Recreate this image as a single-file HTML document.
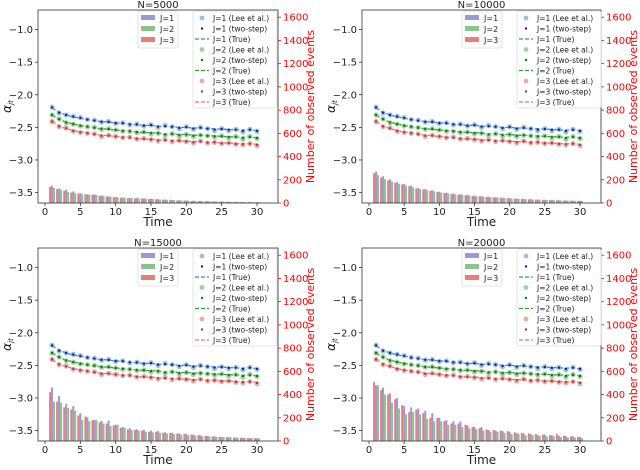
<!DOCTYPE html>
<html><head><meta charset="utf-8"><style>
body{margin:0;background:#fff;width:640px;height:465px;overflow:hidden}
svg text{font-family:"DejaVu Sans","Liberation Sans",sans-serif}
</style></head><body>
<svg id="c" width="640" height="465" xmlns="http://www.w3.org/2000/svg"></svg>
<script>
const times=[1,2,3,4,5,6,7,8,9,10,11,12,13,14,15,16,17,18,19,20,21,22,23,24,25,26,27,28,29,30];
const trueJ1=[-2.20,-2.27,-2.31,-2.34,-2.36,-2.38,-2.40,-2.41,-2.42,-2.43,-2.44,-2.45,-2.46,-2.47,-2.47,-2.48,-2.49,-2.49,-2.50,-2.50,-2.51,-2.51,-2.52,-2.52,-2.53,-2.53,-2.54,-2.54,-2.54,-2.55];
const trueJ2=[-2.31,-2.38,-2.42,-2.45,-2.47,-2.49,-2.51,-2.52,-2.53,-2.54,-2.55,-2.56,-2.57,-2.58,-2.58,-2.59,-2.60,-2.60,-2.61,-2.61,-2.62,-2.62,-2.63,-2.63,-2.64,-2.64,-2.65,-2.65,-2.65,-2.66];
const trueJ3=[-2.41,-2.48,-2.52,-2.55,-2.57,-2.59,-2.61,-2.62,-2.63,-2.64,-2.65,-2.66,-2.67,-2.68,-2.68,-2.69,-2.70,-2.70,-2.71,-2.71,-2.72,-2.72,-2.73,-2.73,-2.74,-2.74,-2.75,-2.75,-2.75,-2.76];
const leeJ1=[-2.19,-2.28,-2.31,-2.33,-2.35,-2.38,-2.39,-2.42,-2.41,-2.44,-2.43,-2.46,-2.45,-2.48,-2.46,-2.50,-2.47,-2.49,-2.52,-2.49,-2.53,-2.50,-2.52,-2.55,-2.52,-2.55,-2.53,-2.57,-2.53,-2.56];
const leeJ2=[-2.31,-2.37,-2.43,-2.45,-2.48,-2.49,-2.50,-2.53,-2.52,-2.54,-2.56,-2.56,-2.58,-2.57,-2.60,-2.59,-2.62,-2.60,-2.63,-2.61,-2.64,-2.62,-2.63,-2.65,-2.63,-2.66,-2.64,-2.68,-2.64,-2.67];
const leeJ3=[-2.41,-2.49,-2.51,-2.56,-2.58,-2.59,-2.60,-2.64,-2.62,-2.64,-2.66,-2.65,-2.68,-2.67,-2.69,-2.71,-2.69,-2.72,-2.70,-2.72,-2.74,-2.71,-2.74,-2.73,-2.75,-2.74,-2.76,-2.77,-2.75,-2.78];
const cntN5000J1=[150,125,115,100,85,75,72,65,58,52,48,44,42,40,37,33,30,27,24,22,20,18,16,14,13,11,10,9,8,7];
const cntN5000J2=[130,115,95,85,75,72,70,62,55,50,46,42,40,38,34,30,28,25,22,20,18,16,15,13,12,10,9,8,7,6];
const cntN5000J3=[140,120,105,90,80,74,72,60,55,50,45,42,40,38,35,31,28,25,22,21,18,16,15,13,12,11,9,8,7,6];
const cntN10000J1=[270,230,205,180,165,150,130,120,110,98,90,82,75,70,64,58,54,50,46,42,38,36,33,30,28,26,24,22,20,19];
const cntN10000J2=[240,205,185,165,150,135,120,110,100,90,82,75,70,64,58,54,50,46,42,38,35,32,30,28,26,24,22,20,19,18];
const cntN10000J3=[255,220,195,175,160,145,125,115,105,94,86,78,72,66,60,56,52,48,44,40,36,34,31,29,27,25,23,21,20,19];
const cntN15000J1=[460,390,320,300,240,205,180,175,175,140,120,110,100,95,90,85,75,70,65,60,55,50,45,40,35,33,30,28,25,24];
const cntN15000J2=[340,330,285,260,180,170,180,150,130,140,115,95,90,80,75,70,65,60,55,50,45,40,38,35,33,30,28,26,24,22];
const cntN15000J3=[420,340,290,270,220,210,180,160,150,135,115,100,95,90,80,80,70,70,65,60,55,50,45,40,35,33,30,28,26,24];
const cntN20000J1=[480,460,410,370,300,290,280,260,240,200,180,170,170,135,120,120,95,90,85,80,70,65,60,50,55,50,45,42,40,35];
const cntN20000J2=[480,400,330,280,230,250,230,190,170,170,140,140,120,110,100,90,80,80,70,60,60,50,50,45,40,40,35,30,30,25];
const cntN20000J3=[510,440,400,360,310,250,270,240,200,200,170,150,150,140,120,110,100,95,90,85,75,70,65,60,55,50,60,45,40,35];

const titles=["N=5000","N=10000","N=15000","N=20000"];
const counts=[[cntN5000J1,cntN5000J2,cntN5000J3],[cntN10000J1,cntN10000J2,cntN10000J3],[cntN15000J1,cntN15000J2,cntN15000J3],[cntN20000J1,cntN20000J2,cntN20000J3]];
const yTicks=[-1.0,-1.5,-2.0,-2.5,-3.0,-3.5];
const rTicks=[0,200,400,600,800,1000,1200,1400,1600];
const xTicks=[0,5,10,15,20,25,30];
const NS="http://www.w3.org/2000/svg";
const svg=document.getElementById('c');
function mk(t,a,p){const e=document.createElementNS(NS,t);for(const k in a)e.setAttribute(k,a[k]);(p||svg).appendChild(e);return e;}
const panels=[{L:38,R:278,T:10,B:203},{L:362,R:601,T:10,B:203},{L:38,R:278,T:248,B:441},{L:362,R:601,T:248,B:441}];
const barCol=["rgba(110,110,200,0.7)","rgba(90,170,90,0.7)","rgba(225,80,80,0.75)"];
const leeCol=["rgba(120,170,225,0.75)","rgba(120,200,120,0.75)","rgba(230,140,140,0.75)"];
const tsCol=["#1a237e","#1b6e1b","#a04040"];
const trueCol=["#2f8ad8","#2ca02c","#f07070"];
const trues=[trueJ1,trueJ2,trueJ3],lees=[leeJ1,leeJ2,leeJ3];
panels.forEach((P,pi)=>{
 const g=mk('g',{});
 
 
 const x0=P.L+7,x30=P.R-21;
 const X=t=>x0+(x30-x0)*t/30;
 const yTop=-0.70,yBot=-3.66;
 const Y=v=>P.T+(yTop-v)/(yTop-yBot)*(P.B-P.T);
 const rMax=1662;
 const YR=c=>P.B-c/rMax*(P.B-P.T);
 const bw=(x30-x0)/30*0.28;
 const off=[0,1,-1];
 for(let j=0;j<3;j++){counts[pi][j].forEach((c,i)=>{
   const r=mk('rect',{x:X(times[i])+off[j]*bw-bw/2,y:YR(c),width:bw,height:P.B-YR(c),fill:barCol[j]},g);
   
   
 });}
 for(let j=0;j<3;j++){
   const d=trues[j].map((v,i)=>(i?'L':'M')+X(times[i]).toFixed(1)+','+Y(v).toFixed(1)).join('');
   const pl=mk('path',{d:d,fill:'none',stroke:trueCol[j],'stroke-width':1.3,'stroke-dasharray':'4,2'},g);
   
   
   lees[j].forEach((v,i)=>{
     const c=mk('circle',{cx:X(times[i]),cy:Y(v),r:2.6,fill:leeCol[j]},g);
     
     
     const s=mk('circle',{cx:X(times[i]),cy:Y((v+trues[j][i])/2),r:1.2,fill:tsCol[j]},g);
     
     
   });
 }
 mk('rect',{x:P.L,y:P.T,width:P.R-P.L,height:P.B-P.T,fill:'none',stroke:'#333','stroke-width':0.8},g);
 mk('line',{x1:P.R,y1:P.T,x2:P.R,y2:P.B,stroke:'#555','stroke-width':0.8},g);
 yTicks.forEach(v=>{const y=Y(v);mk('line',{x1:P.L-3,y1:y,x2:P.L,y2:y,stroke:'#333','stroke-width':0.8},g);
  const t=mk('text',{x:P.L-5,y:y+3.5,'font-size':10,'text-anchor':'end',fill:'#222'},g);t.textContent=(v<0?'\u2212':'')+Math.abs(v).toFixed(1);});
 rTicks.forEach(v=>{const y=YR(v);mk('line',{x1:P.R,y1:y,x2:P.R+3,y2:y,stroke:'red','stroke-width':0.8},g);
  const t=mk('text',{x:P.R+5,y:y+3.5,'font-size':10,fill:'red'},g);t.textContent=v;});
 xTicks.forEach(v=>{const x=X(v);mk('line',{x1:x,y1:P.B,x2:x,y2:P.B+3,stroke:'#333','stroke-width':0.8},g);
  const t=mk('text',{x:x,y:P.B+12,'font-size':10,'text-anchor':'middle',fill:'#222'},g);t.textContent=v;});
 let t=mk('text',{x:(P.L+P.R)/2,y:P.T-2,'font-size':10,'text-anchor':'middle',fill:'#222'},g);t.textContent=titles[pi];
 
 t=mk('text',{x:(P.L+P.R)/2,y:P.B+23,'font-size':12,'text-anchor':'middle',fill:'#222'},g);t.textContent='Time';
 
 t=mk('text',{x:0,y:0,'font-size':12,'font-style':'italic','text-anchor':'middle',fill:'#222',transform:`translate(${P.L-27},${(P.T+P.B)/2}) rotate(-90)`},g);t.textContent='\u03b1';
 const sub=mk('tspan',{'font-size':7,dy:2},t);sub.textContent='jt';
 
 t=mk('text',{x:0,y:0,'font-size':11,'text-anchor':'middle',fill:'red',transform:`translate(${P.R+36},${(P.T+P.B)/2}) rotate(-90)`},g);t.textContent='Number of observed events';
 
 const lg=mk('g',{},g);
 const bx=P.L+100,by=P.T+1;
 mk('rect',{x:bx,y:by,width:40,height:37,fill:'#fff',stroke:'#ddd','stroke-width':0.8,rx:2},lg);
 ['J=1','J=2','J=3'].forEach((s,j)=>{mk('rect',{x:bx+3,y:by+4+j*11,width:14,height:5,fill:barCol[j]},lg);
  const tt=mk('text',{x:bx+22,y:by+10+j*11,'font-size':8,fill:'#222'},lg);tt.textContent=s;});
 const sg=mk('g',{},g);
 const sx=P.L+155,sy=P.T+1;
 mk('rect',{x:sx,y:sy,width:84,height:97,fill:'#fff','fill-opacity':0.85,stroke:'#ddd','stroke-width':0.8,rx:2},sg);
 for(let j=0;j<3;j++){
  const labs=[' (Lee et al.)',' (two-step)',' (True)'];
  for(let k=0;k<3;k++){const yy=sy+10+(j*3+k)*10.5;
   if(k==0)mk('circle',{cx:sx+9,cy:yy-3,r:2.4,fill:leeCol[j]},sg);
   if(k==1)mk('circle',{cx:sx+9,cy:yy-3,r:1.2,fill:tsCol[j]},sg);
   if(k==2)mk('line',{x1:sx+2,y1:yy-3,x2:sx+16,y2:yy-3,stroke:trueCol[j],'stroke-width':1.2,'stroke-dasharray':'4,2'},sg);
   const tt=mk('text',{x:sx+20,y:yy,'font-size':7.5,fill:'#222'},sg);tt.textContent='J='+(j+1)+labs[k];}
 }
});
</script>
</body></html>
